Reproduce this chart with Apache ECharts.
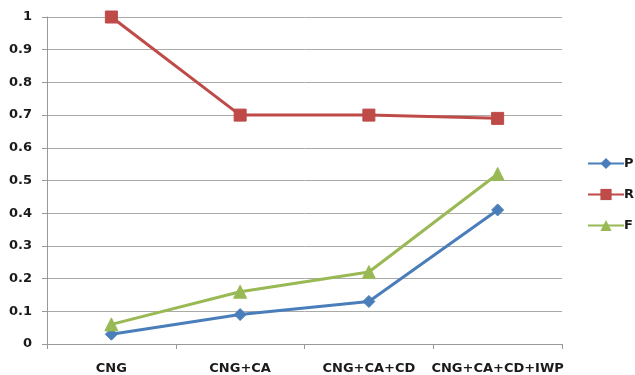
<!DOCTYPE html>
<html>
<head>
<meta charset="utf-8">
<script src="https://cdn.jsdelivr.net/npm/echarts@6/dist/echarts.min.js"></script>
<style>
  html, body { margin: 0; padding: 0; background: #fff; }
  #chart { width: 635px; height: 375px; }
</style>
</head>
<body>
<div id="chart"></div>
<script>
// Categories along the x axis
const categories = ['CNG', 'CNG+CA', 'CNG+CA+CD', 'CNG+CA+CD+IWP'];
// Series values
const pValues = [0.03, 0.09, 0.13, 0.41];
const rValues = [1.0, 0.70, 0.70, 0.69];
const fValues = [0.06, 0.16, 0.22, 0.52];

const chart = echarts.init(document.getElementById('chart'));
const labelFont = { color: '#1a1a1a', fontFamily: 'DejaVu Sans', fontWeight: 'bold', fontSize: 13 };

function lineSeries(name, data, color, symbol, size) {
  return {
    name, type: 'line', data,
    symbol, symbolSize: size,
    lineStyle: { color, width: 3 },
    itemStyle: { color, borderColor: color },
    emphasis: { disabled: true },
    animation: false
  };
}

chart.setOption({
  animation: false,
  grid: { left: 47, right: 73, top: 17, bottom: 31 },
  legend: {
    orient: 'vertical',
    left: 582, top: 152,
    itemWidth: 36, itemHeight: 14, itemGap: 18,
    textStyle: Object.assign({}, labelFont, { padding: [0, 0, 0, -5] }),
    data: ['P', 'R', 'F']
  },
  xAxis: {
    type: 'category', data: categories, boundaryGap: true,
    axisLine: { lineStyle: { color: '#999', width: 1 } },
    axisTick: { show: true, interval: 0, length: 5, lineStyle: { color: '#999' } },
    axisLabel: Object.assign({ margin: 18, interval: 0 }, labelFont)
  },
  yAxis: {
    type: 'value', min: 0, max: 1, interval: 0.1,
    axisLine: { show: true, lineStyle: { color: '#999', width: 1 } },
    axisTick: { show: true, length: 5, inside: false, lineStyle: { color: '#999' } },
    splitLine: { lineStyle: { color: '#aaa', width: 1 } },
    axisLabel: Object.assign({ margin: 15, formatter: v => String(Math.round(v * 10) / 10) }, labelFont)
  },
  series: [
    lineSeries('P', pValues, '#4A7EBB', 'diamond', 12),
    lineSeries('R', rValues, '#BE4B48', 'rect', 12),
    lineSeries('F', fValues, '#98B954', 'triangle', 13)
  ]
});
</script>
</body>
</html>
